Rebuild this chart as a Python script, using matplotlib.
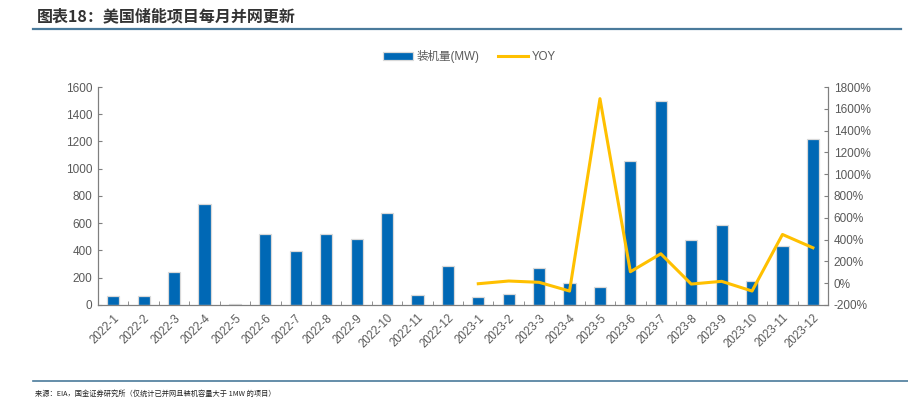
import matplotlib
matplotlib.use("Agg")
import matplotlib.pyplot as plt
import numpy as np
from matplotlib.ticker import FuncFormatter, FixedLocator

plt.rcParams['font.family'] = ['Liberation Sans', 'Noto Sans CJK SC', 'DejaVu Sans']

categories = ["2022-1", "2022-2", "2022-3", "2022-4", "2022-5", "2022-6", "2022-7", "2022-8",
              "2022-9", "2022-10", "2022-11", "2022-12", "2023-1", "2023-2", "2023-3", "2023-4",
              "2023-5", "2023-6", "2023-7", "2023-8", "2023-9", "2023-10", "2023-11", "2023-12"]
capacity_mw = [63, 68, 245, 740, 10, 523, 395, 518, 484, 675, 76, 286,
               56, 78, 269, 161, 134, 1056, 1500, 479, 584, 176, 430, 1222]
yoy_categories = categories[12:]
yoy_pct = [-5, 20, 8, -72, 1693, 105, 270, -8, 17, -72, 447, 325]

blue = "#0068B5"
yellow = "#FFC000"
gray = "#595959"
axis_gray = "#7F7F7F"

fig = plt.figure(figsize=(9.08, 3.98), dpi=100)
ax = fig.add_axes([0.108, 0.2337, 0.804, 0.5477])
ax2 = ax.twinx()

x = np.arange(len(categories))
bars = ax.bar(x, capacity_mw, width=0.40, color=blue, edgecolor="#D9D9D9", linewidth=0.9,
              label="装机量(MW)", zorder=2)
xi = np.array([categories.index(c) for c in yoy_categories])
line, = ax2.plot(xi, yoy_pct, color=yellow, linewidth=2.2, label="YOY", zorder=3)

ax.set_xlim(-0.5, len(categories) - 0.5)
ax.set_ylim(0, 1600)
ax.set_yticks(np.arange(0, 1601, 200))
ax2.set_ylim(-200, 1800)
ax2.set_yticks(np.arange(-200, 1801, 200))
ax2.yaxis.set_major_formatter(FuncFormatter(lambda v, p: f"{int(v)}%"))

ax.set_xticks(x)
ax.set_xticklabels(categories, rotation=45, ha="right", rotation_mode="anchor")
ax.xaxis.set_minor_locator(FixedLocator(np.arange(0.5, len(categories) - 0.5, 1)))
ax.tick_params(axis="x", which="major", length=0, pad=5, labelsize=8.3, labelcolor=gray)
ax.tick_params(axis="x", which="minor", length=3, direction="in", color=axis_gray)
ax.tick_params(axis="y", length=3, direction="in", color=axis_gray, labelsize=8.5,
               labelcolor=gray, pad=4)
ax2.tick_params(axis="y", length=3, direction="in", color=axis_gray, labelsize=8.5,
                labelcolor=gray, pad=4)

for a in (ax, ax2):
    a.spines["top"].set_visible(False)
    for s in ("left", "right", "bottom"):
        a.spines[s].set_color(axis_gray)
        a.spines[s].set_linewidth(0.8)
ax.patch.set_visible(False)
ax2.patch.set_visible(False)
ax.set_zorder(1); ax2.set_zorder(2)

fig.legend([bars, line], ["装机量(MW)", "YOY"], loc="center", bbox_to_anchor=(0.517, 0.857),
           ncol=2, frameon=False, fontsize=8.3, labelcolor=gray, handlelength=2.6,
           columnspacing=1.6, handletextpad=0.3)

fig.text(0.041, 0.958, "图表18：美国储能项目每月并网更新", fontsize=11.5, fontweight="bold",
         color="#333333", ha="left", va="center", style="italic",
         family=['Noto Sans CJK SC', 'DejaVu Sans'])
fig.add_artist(plt.Line2D([0.036, 0.992], [0.927, 0.927], color="#4A7A9B", linewidth=1.6,
                          transform=fig.transFigure))
fig.add_artist(plt.Line2D([0.036, 1.0], [0.043, 0.043], color="#4A7A9B", linewidth=1.2,
                          transform=fig.transFigure))
fig.text(0.039, 0.01, "来源：EIA，国金证券研究所（仅统计已并网且装机容量大于 1MW 的项目）",
         fontsize=5.2, color="#222222", ha="left", va="center",
         family=['Noto Sans CJK SC', 'DejaVu Sans'])

fig.savefig("out.png", dpi=100)
